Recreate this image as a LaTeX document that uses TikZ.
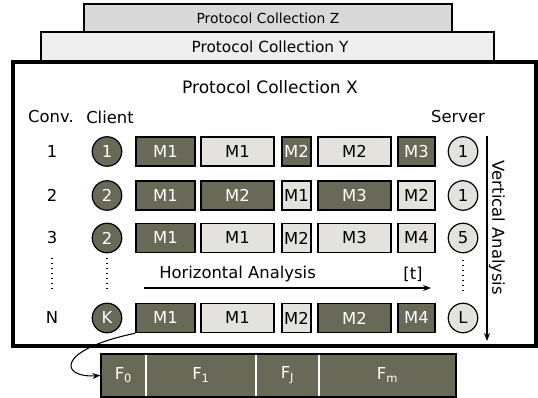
\documentclass[tikz,border=0pt]{standalone}
\usepackage{fontspec}
\setmainfont{DejaVu Sans}
\usetikzlibrary{arrows.meta}
\definecolor{dk}{HTML}{696957}
\definecolor{lt}{HTML}{E3E2DC}
\definecolor{zfill}{HTML}{D9D9D9}
\definecolor{yfill}{HTML}{EEEEEE}
\newcommand\mbx[6]{\node[#4, minimum width=#3*0.75pt] (#6) at (#1,#2) {#5};}
\begin{document}
\begin{tikzpicture}[x=0.75pt,y=-0.75pt,
  every node/.style={font=\fontsize{12.3}{14}\selectfont},
  mbox/.style={draw=black, line width=1.1pt, inner sep=0pt, minimum height=29*0.75pt},
  dkbox/.style={mbox, fill=dk, text=white},
  ltbox/.style={mbox, fill=lt, text=black},
  cbase/.style={circle, draw=black, line width=0.9pt, inner sep=0pt, minimum size=29.5*0.75pt},
  dkc/.style={cbase, fill=dk, text=white},
  ltc/.style={cbase, fill=lt, text=black},
  coll/.style={draw=black, line width=1.6pt},
  lbl/.style={inner sep=0pt},
  arr/.style={line width=0.8pt, -{Stealth[length=6pt,width=4.5pt]}},
  dots/.style={line width=1.1pt, dash pattern=on 1.1pt off 2.6pt},
  fsep/.style={draw=white, line width=0.8pt}
]
\useasboundingbox (0,0) rectangle (538,398);
% collections
\draw[coll, fill=zfill] (84,4) rectangle (452,32);
\node[lbl, font=\fontsize{10.4}{12}\selectfont] (tz) at (268,18) {Protocol Collection Z};
\draw[coll, fill=yfill] (41,32) rectangle (494,62);
\node[lbl, font=\fontsize{11.5}{13}\selectfont] (ty) at (270,47) {Protocol Collection Y};
\draw[draw=black, line width=2.3pt, fill=white] (13,62) rectangle (536,346);
\node[lbl, font=\fontsize{12.8}{14}\selectfont] (tx) at (270,87) {Protocol Collection X};
% headers
\node[lbl] (hconv) at (51,117) {Conv.};
\node[lbl] (hcli) at (110,117) {Client};
\node[lbl] (hsrv) at (458,117) {Server};
% conv numbers
\node[lbl] (n1) at (52,151.5) {1};
\node[lbl] (n2) at (52,195.5) {2};
\node[lbl] (n3) at (52,238) {3};
\node[lbl] (nN) at (52,318) {N};
% client circles
\node[dkc] (c1) at (107,151.5) {1};
\node[dkc] (c2) at (107,195.5) {2};
\node[dkc] (c3) at (107,238) {2};
\node[dkc] (cN) at (107,318) {K};
% server circles
\node[ltc] (s1) at (463,151.5) {1};
\node[ltc] (s2) at (463,195.5) {1};
\node[ltc] (s3) at (463,238) {5};
\node[ltc] (sN) at (463,318) {L};
% row 1
\mbx{165.5}{151.5}{59}{dkbox}{M1}{a1}
\mbx{237.5}{151.5}{73}{ltbox}{M1}{a2}
\mbx{296.5}{151.5}{29}{dkbox}{M2}{a3}
\mbx{354.5}{151.5}{73}{ltbox}{M2}{a4}
\mbx{416.5}{151.5}{37}{dkbox}{M3}{a5}
% row 2
\mbx{165.5}{195.5}{59}{dkbox}{M1}{b1}
\mbx{237.5}{195.5}{73}{dkbox}{M2}{b2}
\mbx{296.5}{195.5}{29}{ltbox}{M1}{b3}
\mbx{354.5}{195.5}{73}{dkbox}{M3}{b4}
\mbx{416.5}{195.5}{37}{ltbox}{M2}{b5}
% row 3
\mbx{165.5}{238}{59}{dkbox}{M1}{d1}
\mbx{237.5}{238}{73}{ltbox}{M1}{d2}
\mbx{296.5}{238}{29}{ltbox}{M2}{d3}
\mbx{354.5}{238}{73}{ltbox}{M3}{d4}
\mbx{416.5}{238}{37}{ltbox}{M4}{d5}
% row N
\mbx{165.5}{318}{59}{dkbox}{M1}{e1}
\mbx{237.5}{318}{73}{ltbox}{M1}{e2}
\mbx{296.5}{318}{29}{ltbox}{M2}{e3}
\mbx{354.5}{318}{73}{dkbox}{M2}{e4}
\mbx{416.5}{318}{37}{dkbox}{M4}{e5}
% dots
\coordinate (dc1) at (52,258); \coordinate (dc2) at (52,291);
\coordinate (dk1) at (107,258); \coordinate (dk2) at (107,291);
\coordinate (ds1) at (463,260); \coordinate (ds2) at (463,292);
\draw[dots] (dc1) -- (dc2);
\draw[dots] (dk1) -- (dk2);
\draw[dots] (ds1) -- (ds2);
% horizontal analysis
\coordinate (h1) at (144,288); \coordinate (h2) at (431,288);
\draw[arr] (h1) -- (h2);
\node[lbl, anchor=west] (htxt) at (159,274) {Horizontal Analysis};
\node[lbl] (ht) at (413,274) {[t]};
% vertical analysis
\coordinate (v1) at (487,136); \coordinate (v2) at (487,341);
\draw[arr] (v1) -- (v2);
\node[lbl, rotate=-90] (vtxt) at (497,228) {Vertical Analysis};
% field bar
\node[draw=black, line width=0.9pt, fill=dk, inner sep=0pt, minimum width=355*0.75pt, minimum height=43*0.75pt] (fbar) at (278.5,375.5) {};
\draw[fsep] (146,355) -- (146,396);
\draw[fsep] (256,355) -- (256,396);
\draw[fsep] (319,355) -- (319,396);
\node[lbl, text=white] (f0) at (123.5,375) {F\textsubscript{0}};
\node[lbl, text=white] (f1) at (201,375) {F\textsubscript{1}};
\node[lbl, text=white] (fj) at (287.5,375) {F\textsubscript{J}};
\node[lbl, text=white] (fm) at (387.5,375) {F\textsubscript{m}};
\draw[arr] (e1.south west) .. controls (55,350) and (60,378) .. (fbar.west);
\end{tikzpicture}
\end{document}
